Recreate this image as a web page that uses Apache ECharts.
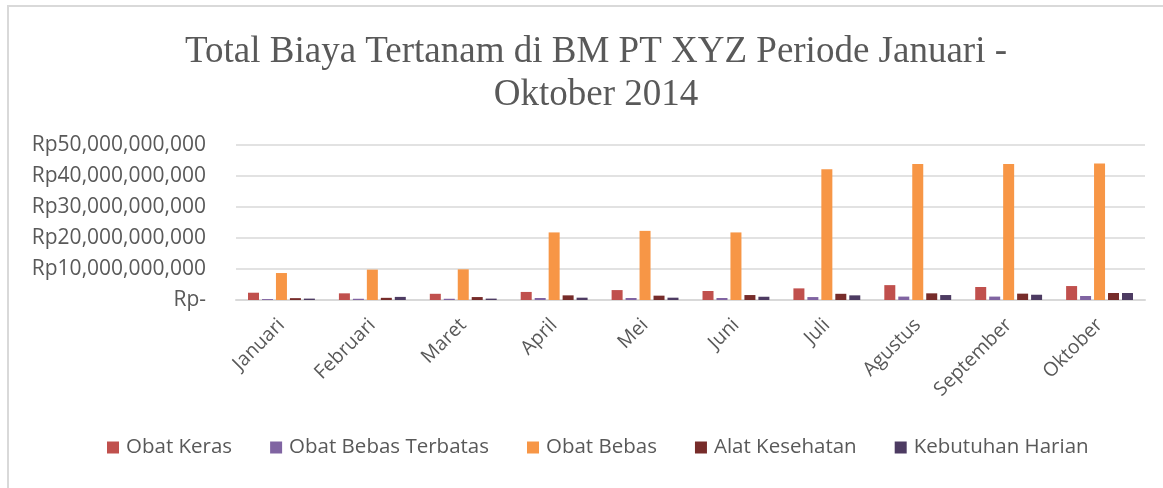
<!DOCTYPE html>
<html><head><meta charset="utf-8">
<script src="https://cdn.jsdelivr.net/npm/echarts@6/dist/echarts.min.js"></script>
<style>
html,body{margin:0;padding:0;background:#fff;}
#frame{position:absolute;left:7px;top:5px;width:1170px;height:500px;border-left:2px solid #D9D9D9;border-top:2px solid #D9D9D9;}
#c{position:absolute;left:0;top:0;width:1163px;height:488px;}
</style></head>
<body>
<div id="frame"></div>
<div id="c"></div>
<script>
const categories = ['Januari','Februari','Maret','April','Mei','Juni','Juli','Agustus','September','Oktober'];
const seriesNames = ['Obat Keras','Obat Bebas Terbatas','Obat Bebas','Alat Kesehatan','Kebutuhan Harian'];
const obatKeras = [2.35e9, 2.15e9, 2.0e9, 2.6e9, 3.2e9, 2.9e9, 3.75e9, 4.8e9, 4.2e9, 4.5e9];
const obatBebasTerbatas = [0.3e9, 0.4e9, 0.4e9, 0.65e9, 0.65e9, 0.65e9, 0.95e9, 1.1e9, 1.1e9, 1.3e9];
const obatBebas = [8.7e9, 9.8e9, 9.9e9, 21.8e9, 22.3e9, 21.8e9, 42.2e9, 43.9e9, 43.9e9, 44.0e9];
const alatKesehatan = [0.6e9, 0.7e9, 0.95e9, 1.5e9, 1.4e9, 1.6e9, 2.0e9, 2.15e9, 2.05e9, 2.25e9];
const kebutuhanHarian = [0.45e9, 1.0e9, 0.45e9, 0.75e9, 0.75e9, 1.05e9, 1.5e9, 1.6e9, 1.7e9, 2.25e9];
const yTicks = [0, 10e9, 20e9, 30e9, 40e9, 50e9];
const colors = ['#C0504D','#8064A2','#F79646','#772C2A','#4D3B62'];
const allData = [obatKeras, obatBebasTerbatas, obatBebas, alatKesehatan, kebutuhanHarian];

function fmt(v){
  if (v === 0) return 'Rp-';
  return 'Rp' + v.toLocaleString('en-US');
}

const chart = echarts.init(document.getElementById('c'));
chart.setOption({
  animation:false,
  color: colors,
  title:{
    text:'Total Biaya Tertanam di BM PT XYZ Periode Januari -\nOktober 2014',
    left:591, top:26, textAlign:'center',
    textStyle:{fontFamily:'"Liberation Serif", serif', fontSize:37, fontWeight:'normal', color:'#595959', lineHeight:43}
  },
  legend:{
    bottom:25, left:102,
    itemWidth:12, itemHeight:12, itemGap:38,
    icon:'rect',
    textStyle:{fontFamily:'"Open Sans", sans-serif', fontSize:20.5, color:'#595959', padding:[0,0,0,2]},
    data: seriesNames
  },
  grid:{left:236, right:18, top:145, bottom:188},
  xAxis:{
    type:'category', data:categories,
    axisLine:{lineStyle:{color:'#D9D9D9', width:2}},
    axisTick:{show:false},
    axisLabel:{rotate:45, fontFamily:'"Open Sans", sans-serif', fontSize:19.5, color:'#595959', margin:22}
  },
  yAxis:{
    type:'value', min:0, max:50e9, interval:10e9,
    axisLine:{show:false}, axisTick:{show:false},
    splitLine:{lineStyle:{color:'#D9D9D9', width:1.5}},
    axisLabel:{formatter:fmt, fontFamily:'"Open Sans", sans-serif', fontSize:21, color:'#595959', margin:30}
  },
  series: seriesNames.map((n,i)=>({
    name:n, type:'bar', data:allData[i],
    barWidth:11, barGap:'27%', barCategoryGap:'26%',
    itemStyle:{color:colors[i]}
  }))
});
</script>
</body></html>
